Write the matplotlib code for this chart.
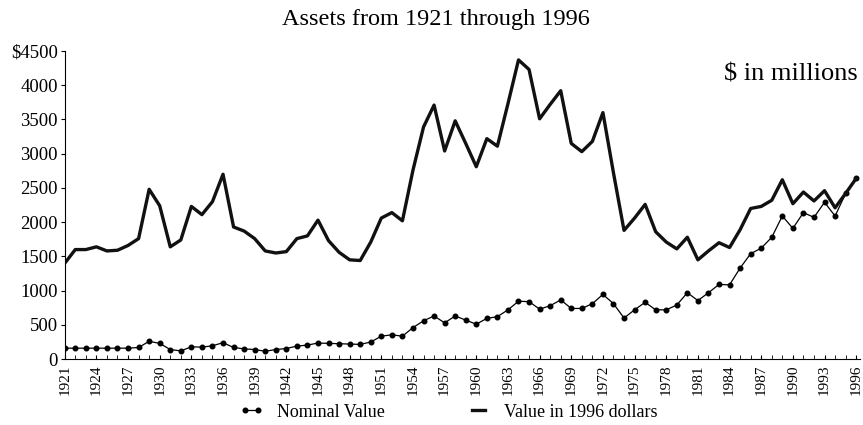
import numpy as np
import matplotlib
matplotlib.use("Agg")
import matplotlib.pyplot as plt

# Годы и значения (в миллионах долларов)
years = list(range(1921, 1997))
nominal = [160, 160, 160, 160, 160, 160, 160, 170, 260, 230,
           140, 120, 180, 175, 195, 240, 170, 150, 140, 115,
           140, 155, 190, 205, 235, 230, 225, 220, 215, 250,
           335, 355, 335, 460, 560, 630, 530, 630, 570, 510,
           595, 620, 720, 845, 840, 730, 780, 865, 740, 740,
           810, 945, 810, 600, 720, 830, 720, 720, 790, 970,
           855, 970, 1090, 1085, 1330, 1540, 1620, 1780, 2090, 1910,
           2140, 2070, 2290, 2090, 2420, 2640]
real_1996 = [1400, 1600, 1600, 1640, 1580, 1590, 1660, 1760, 2480, 2240,
             1640, 1740, 2230, 2110, 2300, 2700, 1930, 1870, 1760, 1580,
             1550, 1570, 1760, 1800, 2030, 1730, 1560, 1450, 1440, 1710,
             2060, 2140, 2020, 2760, 3390, 3710, 3040, 3480, 3150, 2810,
             3220, 3110, 3730, 4370, 4230, 3510, 3720, 3920, 3150, 3030,
             3180, 3600, 2720, 1880, 2060, 2260, 1860, 1710, 1610, 1780,
             1450, 1580, 1700, 1630, 1890, 2200, 2230, 2320, 2620, 2270,
             2440, 2310, 2460, 2210, 2420, 2640]
y_ticks = [0, 500, 1000, 1500, 2000, 2500, 3000, 3500, 4000, 4500]
y_labels = ['0', '500', '1000', '1500', '2000', '2500', '3000', '3500', '4000', '$4500']

plt.rcParams['font.family'] = ['Liberation Serif', 'DejaVu Serif']

fig = plt.figure(figsize=(8.63, 4.25), dpi=100)
ax = fig.add_axes([0.075, 0.155, 0.922, 0.725])

ax.plot(years, nominal, color='black', lw=0.9, marker='o', ms=3.3,
        label='Nominal Value')
ax.plot(years, real_1996, color='#111111', lw=2.4,
        label='Value in 1996 dollars')

ax.set_xlim(1921, 1996.4)
ax.set_ylim(0, 4500)
ax.set_xticks(years[::3])
ax.set_xticklabels([str(y) for y in years[::3]], rotation=90, fontsize=11)
ax.set_xticks(years, minor=True)
ax.tick_params(axis='x', which='both', direction='in', length=3, pad=4)
ax.set_yticks(y_ticks)
ax.set_yticklabels(y_labels, fontsize=13.5)
ax.tick_params(axis='y', direction='out', length=3, pad=2)

for s in ['top', 'right']:
    ax.spines[s].set_visible(False)
ax.spines['left'].set_linewidth(0.8)
ax.spines['bottom'].set_linewidth(0.8)

fig.text(0.505, 0.955, 'Assets from 1921 through 1996', ha='center', va='center',
         fontsize=17.5)
ax.text(0.997, 0.925, '$ in millions', transform=ax.transAxes, ha='right',
        va='center', fontsize=19)

fig.legend(loc='lower center', bbox_to_anchor=(0.52, -0.028), ncol=2,
           frameon=False, fontsize=13, handlelength=1.3, columnspacing=4.5,
           numpoints=2)

fig.savefig('out.png', dpi=100)
